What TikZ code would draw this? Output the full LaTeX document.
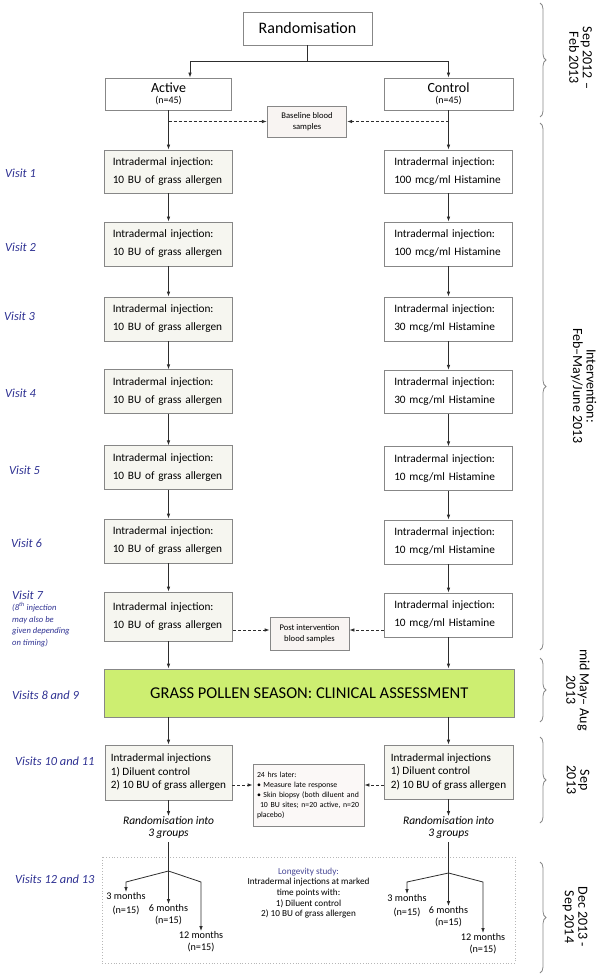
\documentclass[tikz,border=0pt]{standalone}
\usepackage{fontspec}
\setmainfont{Carlito}
\usetikzlibrary{positioning}
\usetikzlibrary{arrows.meta}
\usetikzlibrary{decorations.pathreplacing}
\definecolor{visitblue}{RGB}{46,49,146}
\definecolor{studyblue}{RGB}{72,72,150}
\definecolor{boxgray}{RGB}{135,135,135}
\definecolor{activefill}{RGB}{246,246,240}
\definecolor{bloodfill}{RGB}{248,244,242}
\definecolor{seasongreen}{RGB}{205,238,113}
\definecolor{linegray}{RGB}{45,45,45}
\tikzstyle{head} = [rectangle, draw=boxgray, fill=white, align=center,
    inner sep=0pt, line width=0.8pt]
\tikzstyle{act} = [rectangle, draw=boxgray, fill=activefill, line width=0.8pt,
    text width=111.5pt, inner xsep=8.5pt, inner ysep=0pt, align=left,
    font=\fontsize{11.3}{18}\selectfont]
\tikzstyle{ctrl} = [act, fill=white, text width=108.5pt, inner xsep=10pt]
\tikzstyle{followup} = [rectangle, draw=boxgray, fill=activefill, line width=0.8pt,
    inner sep=0pt, align=left, font=\fontsize{11.2}{13.5}\selectfont]
\tikzstyle{blood} = [rectangle, draw=boxgray, fill=bloodfill, line width=0.8pt,
    align=center, inner sep=0pt, font=\fontsize{8.6}{10.8}\selectfont]
\tikzstyle{visit} = [anchor=west, inner sep=0pt, text=visitblue,
    font=\fontsize{12.4}{14}\selectfont\itshape]
\tikzstyle{months} = [anchor=north, inner sep=0pt, align=center]
\tikzstyle{period} = [rotate=-90, align=center, inner sep=0pt,
    font=\fontsize{14}{13.5}\selectfont]
\tikzstyle{line} = [draw=linegray, line width=0.8pt, -{Latex[length=5pt,width=3.6pt]}]
\tikzstyle{dline} = [line, dashed, dash pattern=on 3pt off 2pt]
\tikzstyle{bracket} = [draw=boxgray, line width=0.8pt, decorate,
    decoration={brace, amplitude=6pt}]

\begin{document}
\begin{tikzpicture}[x=1pt, y=-1pt]
    \useasboundingbox (0,0) rectangle (600,976);
    % Place nodes
    \node [head, minimum width=129pt, minimum height=33pt,
        font=\fontsize{16}{18}\selectfont] (rand) at (307.5,28.5) {Randomisation};
    \node [head, minimum width=126pt, minimum height=32pt] (active) at (168.5,94)
        {{\fontsize{14}{14}\selectfont Active}\\[-1pt]{\fontsize{10}{11}\selectfont (n=45)}};
    \node [head, minimum width=129pt, minimum height=32pt] (control) at (448.5,94)
        {{\fontsize{14}{14}\selectfont Control}\\[-1pt]{\fontsize{10}{11}\selectfont (n=45)}};
    \node [blood, minimum width=79.5pt, minimum height=31pt] (baseline) at (307,121.5)
        {Baseline blood\\samples};
    \node [act, minimum height=43pt] (v1a) at (168.5,171.5) {Intradermal injection:\\10 BU of grass allergen};
    \node [ctrl, minimum height=43pt] (v1c) at (448.5,171.5) {Intradermal injection:\\100 mcg/ml Histamine};
    \node [act, minimum height=44pt] (v2a) at (168.5,244) {Intradermal injection:\\10 BU of grass allergen};
    \node [ctrl, minimum height=44pt] (v2c) at (448.5,244) {Intradermal injection:\\100 mcg/ml Histamine};
    \node [act, minimum height=44pt] (v3a) at (168.5,319) {Intradermal injection:\\10 BU of grass allergen};
    \node [ctrl, minimum height=44pt] (v3c) at (448.5,319) {Intradermal injection:\\30 mcg/ml Histamine};
    \node [act, minimum height=43.5pt] (v4a) at (168.5,391.5) {Intradermal injection:\\10 BU of grass allergen};
    \node [ctrl, minimum height=43.5pt] (v4c) at (448.5,392) {Intradermal injection:\\30 mcg/ml Histamine};
    \node [act, minimum height=43.5pt] (v5a) at (168.5,467.5) {Intradermal injection:\\10 BU of grass allergen};
    \node [ctrl, minimum height=43.5pt] (v5c) at (448.5,468.5) {Intradermal injection:\\10 mcg/ml Histamine};
    \node [act, minimum height=44pt] (v6a) at (168.5,541) {Intradermal injection:\\10 BU of grass allergen};
    \node [ctrl, minimum height=44pt] (v6c) at (448.5,542) {Intradermal injection:\\10 mcg/ml Histamine};
    \node [act, minimum height=49pt] (v7a) at (168.5,616.5) {Intradermal injection:\\10 BU of grass allergen};
    \node [ctrl, minimum height=44pt] (v7c) at (448.5,615) {Intradermal injection:\\10 mcg/ml Histamine};
    \node [blood, minimum width=79pt, minimum height=33pt] (post) at (309.5,633.5)
        {Post intervention\\blood samples};
    \node [head, fill=seasongreen, minimum width=409.5pt, minimum height=48pt,
        font=\fontsize{16.5}{18}\selectfont] (season) at (309.25,693)
        {GRASS POLLEN SEASON: CLINICAL ASSESSMENT};
    \node [followup, minimum width=127pt, minimum height=55pt] (inj10a) at (168.5,772.5)
        {Intradermal injections\\1) Diluent control\\2) 10 BU of grass allergen};
    \node [followup, minimum width=129pt, minimum height=54pt] (inj10c) at (448.5,772)
        {Intradermal injections\\1) Diluent control\\2) 10 BU of grass allergen};
    \node [blood, fill=bloodfill!60, align=left, text width=103pt, inner xsep=4pt,
        minimum height=62pt, font=\fontsize{7.8}{10}\selectfont] (late) at (308.5,795)
        {24 hrs later:\\\textbullet\ Measure late response\\\textbullet\ Skin biopsy (both diluent and\\
        \hspace*{3pt}10 BU sites; n=20 active, n=20\\placebo)};
    \node [months, align=center, font=\fontsize{11.5}{12}\selectfont\itshape] (grpa) at (168.5,816)
        {Randomisation into\\3 groups};
    \node [months, align=center, font=\fontsize{11.5}{12}\selectfont\itshape] (grpc) at (448.5,816)
        {Randomisation into\\3 groups};
    \node [align=center, inner sep=0pt, font=\fontsize{9.2}{10.6}\selectfont] (longevity) at (308.5,893)
        {\textcolor{studyblue}{Longevity study:}\\Intradermal injections at marked\\time points with:\\
        1) Diluent control\\2) 10 BU of grass allergen};
    \node [months, font=\fontsize{10.2}{14}\selectfont] (m3a) at (126,892) {3 months\\(n=15)};
    \node [months, font=\fontsize{10.2}{12.5}\selectfont] (m6a) at (168.5,904) {6 months\\(n=15)};
    \node [months, font=\fontsize{10.2}{12}\selectfont] (m12a) at (201,931) {12 months\\(n=15)};
    \node [months, font=\fontsize{10.2}{14}\selectfont] (m3c) at (407,894) {3 months\\(n=15)};
    \node [months, font=\fontsize{10.2}{12.5}\selectfont] (m6c) at (448.5,906) {6 months\\(n=15)};
    \node [months, font=\fontsize{10.2}{12}\selectfont] (m12c) at (483,933) {12 months\\(n=15)};
    \coordinate (ja) at (168.5,871);
    \coordinate (jc) at (448.5,873);
    % Visit labels
    \node [visit] (lab1) at (5,173) {Visit 1};
    \node [visit] (lab2) at (5,247) {Visit 2};
    \node [visit] (lab3) at (4,316) {Visit 3};
    \node [visit] (lab4) at (5,393) {Visit 4};
    \node [visit] (lab5) at (9,470) {Visit 5};
    \node [visit] (lab6) at (11,543) {Visit 6};
    \node [visit] (lab7) at (12,595) {Visit 7};
    \node [visit, align=left, font=\fontsize{8.6}{11.6}\selectfont\itshape,
        below=3pt of lab7.south west, anchor=north west] (note7)
        {(8\textsuperscript{th} injection\\may also be\\given depending\\on timing)};
    \node [visit] (lab89) at (12,695) {Visits 8 and 9};
    \node [visit] (lab1011) at (15,761) {Visits 10 and 11};
    \node [visit] (lab1213) at (15,879) {Visits 12 and 13};
    % Draw box around longevity study
    \draw [boxgray!60, line width=0.8pt, dotted] (102,857) rectangle (515,963);
    % Draw edges
    \path [line] (rand.south) -- ++(0,16.5) -| ([xshift=21.5pt]active.north);
    \path [line] (rand.south) -- ++(0,16.5) -| (control.north);
    \path [dline] (active.south |- baseline.west) -- (baseline.west);
    \path [dline] (control.south |- baseline.east) -- (baseline.east);
    \path [line] (active) -- (v1a);
    \path [line] (control) -- (v1c);
    \path [line] (v1a) -- (v2a);
    \path [line] (v1c) -- (v2c);
    \path [line] (v2a) -- (v3a);
    \path [line] (v2c) -- (v3c);
    \path [line] (v3a) -- (v4a);
    \path [line] (v3c) -- (v4c);
    \path [line] (v4a) -- (v5a);
    \path [line] (v4c) -- (v5c);
    \path [line] (v5a) -- (v6a);
    \path [line] (v5c) -- (v6c);
    \path [line] (v6a) -- (v7a);
    \path [line] (v6c) -- (v7c);
    \path [dline] ([yshift=-13.5pt]v7a.east) coordinate (pa) -- (pa -| post.west);
    \path [dline] ([yshift=-15pt]v7c.west) coordinate (pc) -- (pc -| post.east);
    \path [line] (v7a.south) -- (v7a.south |- season.north);
    \path [line] (v7c.south) -- (v7c.south |- season.north);
    \path [line] (season.south -| inj10a.north) -- (inj10a.north);
    \path [line] (season.south -| inj10c.north) -- (inj10c.north);
    \path [dline] ([yshift=-12.5pt]inj10a.east) coordinate (la) -- (la -| late.west);
    \path [dline] ([yshift=-13pt]inj10c.west) coordinate (lc) -- (lc -| late.east);
    \path [line] (inj10a) -- (grpa);
    \path [line] (inj10c) -- (grpc);
    \draw [linegray, line width=0.8pt] ([yshift=-4pt]grpa.south) -- (ja);
    \draw [linegray, line width=0.8pt] ([yshift=-4pt]grpc.south) -- (jc);
    \path [line] (ja) -- ++(-42.5,11) -- (m3a.north);
    \path [line] (ja) -- (m6a.north);
    \path [line] (ja) -- ++(32.5,11) -- (m12a.north);
    \path [line] (jc) -- ++(-41.5,9) -- (m3c.north);
    \path [line] (jc) -- (m6c.north);
    \path [line] (jc) -- ++(34.5,9) -- (m12c.north);
    % Time periods
    \draw [bracket] (540,3) -- (540,117);
    \draw [bracket] (540,123) -- (540,650);
    \draw [bracket] (540,658) -- (540,722);
    \draw [bracket] (540,737) -- (540,823);
    \draw [bracket] (540,862) -- (540,973);
    \node [period] (t1) at (580.5,58) {Sep 2012 --\\Feb 2013};
    \node [period] (t2) at (583.5,386) {Intervention:\\Feb--May/June 2013};
    \node [period] (t3) at (578,690) {mid May-- Aug\\2013};
    \node [period] (t4) at (578,780) {Sep\\2013};
    \node [period] (t5) at (575,917) {Dec 2013 -\\Sep 2014};
\end{tikzpicture}
\end{document}
